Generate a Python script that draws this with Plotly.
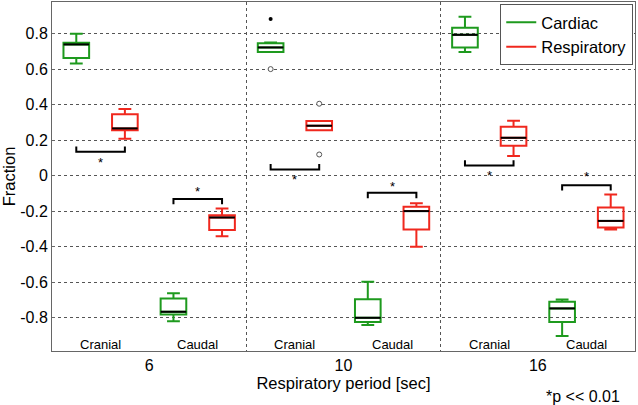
import plotly.graph_objects as go

# ---- data ----
groups = ["6", "10", "16"]
series_names = ["Cardiac", "Respiratory"]
regions = ["Cranial", "Caudal"]

# Cardiac, cranial
cc_lo = [0.632, 0.697, 0.696]
cc_q1 = [0.662, 0.697, 0.722]
cc_med = [0.739, 0.722, 0.793]
cc_q3 = [0.748, 0.746, 0.833]
cc_hi = [0.799, 0.750, 0.895]
# Respiratory, cranial
rc_lo = [0.207, 0.256, 0.110]
rc_q1 = [0.256, 0.256, 0.168]
rc_med = [0.266, 0.281, 0.213]
rc_q3 = [0.345, 0.307, 0.275]
rc_hi = [0.375, 0.307, 0.309]
# Cardiac, caudal
cd_lo = [-0.820, -0.842, -0.903]
cd_q1 = [-0.782, -0.824, -0.824]
cd_med = [-0.767, -0.801, -0.748]
cd_q3 = [-0.692, -0.696, -0.711]
cd_hi = [-0.662, -0.598, -0.698]
# Respiratory, caudal
rd_lo = [-0.341, -0.401, -0.303]
rd_q1 = [-0.307, -0.303, -0.292]
rd_med = [-0.236, -0.200, -0.255]
rd_q3 = [-0.223, -0.176, -0.179]
rd_hi = [-0.185, -0.155, -0.106]

# outliers (group index, value)
out_filled_g = [1]
out_filled_v = [0.882]
out_open_cardiac_g = [1]
out_open_cardiac_v = [0.600]
out_open_resp_g = [1, 1]
out_open_resp_v = [0.405, 0.119]

# significance brackets
br_cranial = [0.134, 0.035, 0.057]
br_caudal = [-0.132, -0.097, -0.054]
star_cranial = [0.089, -0.005, 0.018]
star_caudal = [-0.072, -0.047, 0.014]

yticks = [-0.8, -0.6, -0.4, -0.2, 0, 0.2, 0.4, 0.6, 0.8]

GREEN = "#1e9a1e"
RED = "#f0281e"
BOX_W = 0.132
OFFS = {"cc": -0.375, "rc": -0.125, "cd": 0.125, "rd": 0.375}
BR_DEPTH = 0.03

gpos = [i + 1 for i in range(len(groups))]

fig = go.Figure()

def add_boxes(key, lo, q1, med, q3, hi, color):
    xs = [g + OFFS[key] for g in gpos]
    fig.add_trace(go.Box(
        x=xs, q1=q1, median=med, q3=q3, lowerfence=lo, upperfence=hi,
        width=BOX_W, whiskerwidth=0.5, boxpoints=False,
        fillcolor="rgba(255,255,255,0)", line=dict(color=color, width=2),
        showlegend=False, hoverinfo="skip",
    ))
    # black median lines
    mx, my = [], []
    for x, m in zip(xs, med):
        mx += [x - BOX_W / 2, x + BOX_W / 2, None]
        my += [m, m, None]
    fig.add_trace(go.Scatter(x=mx, y=my, mode="lines",
                             line=dict(color="black", width=2),
                             showlegend=False, hoverinfo="skip"))

add_boxes("cc", cc_lo, cc_q1, cc_med, cc_q3, cc_hi, GREEN)
add_boxes("rc", rc_lo, rc_q1, rc_med, rc_q3, rc_hi, RED)
add_boxes("cd", cd_lo, cd_q1, cd_med, cd_q3, cd_hi, GREEN)
add_boxes("rd", rd_lo, rd_q1, rd_med, rd_q3, rd_hi, RED)

# outliers
fig.add_trace(go.Scatter(
    x=[gpos[g] + OFFS["cc"] for g in out_filled_g], y=out_filled_v, mode="markers",
    marker=dict(color="black", size=4), showlegend=False, hoverinfo="skip"))
fig.add_trace(go.Scatter(
    x=[gpos[g] + OFFS["cc"] for g in out_open_cardiac_g] + [gpos[g] + OFFS["rc"] for g in out_open_resp_g],
    y=out_open_cardiac_v + out_open_resp_v, mode="markers",
    marker=dict(color="white", size=5, line=dict(color="#555555", width=1)),
    showlegend=False, hoverinfo="skip"))

# brackets
bx, by = [], []
for i, g in enumerate(gpos):
    x1, x2 = g + OFFS["cc"], g + OFFS["rc"]
    h = br_cranial[i]
    bx += [x1, x1, x2, x2, None]
    by += [h + BR_DEPTH, h, h, h + BR_DEPTH, None]
    x1, x2 = g + OFFS["cd"], g + OFFS["rd"]
    h = br_caudal[i]
    bx += [x1, x1, x2, x2, None]
    by += [h - BR_DEPTH, h, h, h - BR_DEPTH, None]
fig.add_trace(go.Scatter(x=bx, y=by, mode="lines", line=dict(color="black", width=2),
                         showlegend=False, hoverinfo="skip"))

annotations = []
for i, g in enumerate(gpos):
    annotations.append(dict(x=g - 0.25, y=star_cranial[i], text="*", showarrow=False,
                            font=dict(size=13, color="black"), yshift=-3))
    annotations.append(dict(x=g + 0.25, y=star_caudal[i], text="*", showarrow=False,
                            font=dict(size=13, color="black"), yshift=-3))
    annotations.append(dict(x=g - 0.25, y=0, yref="paper", yanchor="bottom", text=regions[0],
                            showarrow=False, font=dict(size=13, color="black"), yshift=-3))
    annotations.append(dict(x=g + 0.25, y=0, yref="paper", yanchor="bottom", text=regions[1],
                            showarrow=False, font=dict(size=13, color="black"), yshift=-3))
annotations.append(dict(x=0.977, xref="paper", y=-0.13, yref="paper", text="*p << 0.01",
                        showarrow=False, xanchor="right", yanchor="middle",
                        font=dict(size=16, color="black")))

# legend entries
fig.add_trace(go.Scatter(x=[None], y=[None], mode="lines", name=series_names[0],
                         line=dict(color=GREEN, width=2)))
fig.add_trace(go.Scatter(x=[None], y=[None], mode="lines", name=series_names[1],
                         line=dict(color=RED, width=2)))

fig.update_layout(
    width=638, height=405,
    margin=dict(l=52, r=3, t=2, b=54),
    paper_bgcolor="white", plot_bgcolor="white",
    font=dict(family="Liberation Sans, Arial, sans-serif", size=16, color="black"),
    annotations=annotations,
    legend=dict(x=0.997, y=0.994, xanchor="right", yanchor="top",
                bordercolor="#555555", borderwidth=1, bgcolor="white",
                font=dict(size=16.5), itemwidth=30, tracegroupgap=0),
    xaxis=dict(
        range=[0.5, 3.5], tickvals=gpos, ticktext=groups, showgrid=False, zeroline=False,
        showline=True, linecolor="#666666", linewidth=1, mirror=True, ticks="",
        minor=dict(tickvals=[g + 0.5 for g in gpos[:-1]], showgrid=True,
                   gridcolor="#555555", griddash="3px,3px", gridwidth=1),
        title=dict(text="Respiratory period [sec]", standoff=4, font=dict(size=16.5)),
        tickfont=dict(size=16),
    ),
    yaxis=dict(
        range=[-0.988, 0.978], tickvals=yticks, ticktext=[f"{v:g}" for v in yticks],
        showgrid=True, gridcolor="#555555", griddash="3px,3px", gridwidth=1,
        zeroline=False, showline=True, linecolor="#666666", linewidth=1, mirror=True,
        ticks="inside", ticklen=3, tickcolor="#666666",
        title=dict(text="Fraction", standoff=4, font=dict(size=16.5)),
        tickfont=dict(size=16),
    ),
)

fig.write_html("out.html", config={"displayModeBar": False},
               post_script="document.body.style.margin='0';")
